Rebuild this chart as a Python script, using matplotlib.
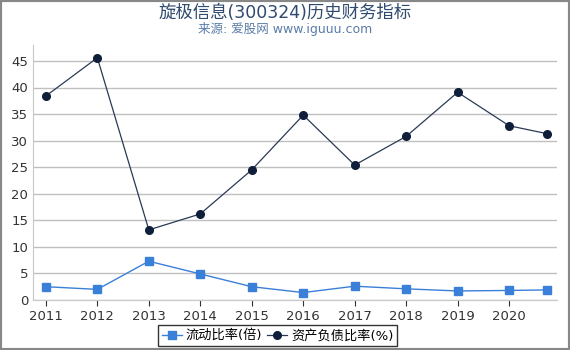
import matplotlib
matplotlib.use("Agg")
import matplotlib.pyplot as plt

plt.rcParams['font.family'] = ['DejaVu Sans', 'Noto Sans CJK SC']

# data
years = [2011, 2012, 2013, 2014, 2015, 2016, 2017, 2018, 2019, 2020, 2020.74]
current_ratio = [2.5, 2.0, 7.3, 4.9, 2.5, 1.4, 2.6, 2.1, 1.7, 1.8, 1.9]
debt_ratio = [38.4, 45.6, 13.2, 16.2, 24.5, 34.8, 25.4, 30.8, 39.1, 32.8, 31.3]
xticks = list(range(2011, 2021))
yticks = list(range(0, 50, 5))

fig = plt.figure(figsize=(5.7, 3.5), dpi=100)
ax = fig.add_axes([33/570, 50/350, 524/570, 255/350])

ax.plot(years, current_ratio, color='#3a80d8', marker='s', markersize=5.5,
        linewidth=1, label='流动比率(倍)')
ax.plot(years, debt_ratio, color='#2a3a55', marker='o', markersize=5.5,
        markerfacecolor='#0f1f3a', markeredgecolor='#0f1f3a',
        linewidth=0.9, label='资产负债比率(%)')

ax.set_xlim(2010.75, 2020.93)
ax.set_ylim(0, 48)
ax.set_xticks(xticks)
ax.set_yticks(yticks)
ax.tick_params(labelsize=9.5, colors='#333333', length=4, width=0.8)
ax.tick_params(axis='y', length=0)
ax.grid(axis='y', color='#c0c0c0', linewidth=1)
ax.set_axisbelow(True)
for s in ['top', 'right']:
    ax.spines[s].set_visible(False)
for s in ['left', 'bottom']:
    ax.spines[s].set_color('#c8c8c8')

fig.text(0.5, 0.962, '旋极信息(300324)历史财务指标', ha='center', va='center',
         fontsize=12.5, color='#2e4a6e')
fig.text(0.5, 0.918, '来源: 爱股网 www.iguuu.com', ha='center', va='center',
         fontsize=9, color='#5a7ca8')

leg = fig.legend(loc='lower center', bbox_to_anchor=(0.487, -0.008), ncol=2,
                 fontsize=9.5, frameon=True, fancybox=False, handlelength=1.5,
                 handletextpad=0.3, columnspacing=0.4, borderpad=0.3)
leg.get_frame().set_edgecolor('black')
leg.get_frame().set_linewidth(1)

# gray frame around the whole figure
fig.patches.append(plt.Rectangle((0, 0), 1, 1, transform=fig.transFigure,
                                 fill=False, edgecolor='#888888', linewidth=3))

fig.savefig('out.png', dpi=100)
